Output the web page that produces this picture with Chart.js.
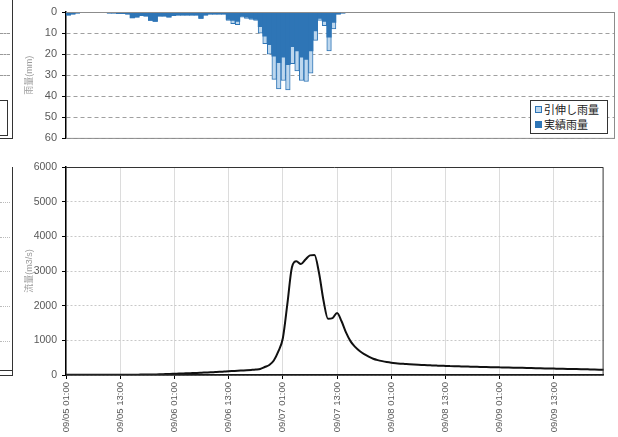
<!DOCTYPE html>
<html lang="ja">
<head>
<meta charset="UTF-8">
<title>雨量・流量</title>
<script src="https://cdn.jsdelivr.net/npm/chart.js"></script>
<style>
  body { margin: 0; padding: 0; background: #fff; width: 618px; height: 437px; position: relative; overflow: hidden;
         font-family: 'Liberation Sans', 'Noto Sans CJK JP', sans-serif; }
  canvas { position: absolute; left: 14px; }
  #rainChart { top: 0; }
  #flowChart { top: 150px; }
  .ln { position: absolute; background: #333; }
  .dash { position: absolute; height: 0; border-top: 1px dashed #999; }
  .dot { position: absolute; height: 0; border-top: 1px dotted #bbb; }
  #legend { position: absolute; left: 530px; top: 100px; width: 78px; height: 34px; border: 1px solid #333;
            background: #fff; font-size: 11px; color: #222; padding: 2px 0 0 4px; box-sizing: border-box; }
  #legend div { height: 15px; line-height: 15px; white-space: nowrap; }
  #legend span.mk { display: inline-block; width: 5px; height: 5px; margin-right: 2px; vertical-align: 1px; }
</style>
</head>
<body>
<!-- edges of the neighbouring charts on the left -->
<div class="ln" style="left:12px;top:0;width:1px;height:139px"></div>
<div class="ln" style="left:0;top:138px;width:13px;height:1px"></div>
<div class="dash" style="left:0;top:33px;width:10px"></div>
<div class="dash" style="left:0;top:54px;width:10px"></div>
<div class="dash" style="left:0;top:75px;width:10px"></div>
<div class="dash" style="left:0;top:118px;width:7px"></div>
<div style="position:absolute;left:-2px;top:100px;width:8px;height:34px;border:1px solid #333;background:#fff"></div>
<div class="ln" style="left:12px;top:167px;width:1px;height:209px"></div>
<div class="ln" style="left:0;top:370px;width:13px;height:1px"></div>
<div class="ln" style="left:0;top:375px;width:13px;height:1px"></div>
<div class="dot" style="left:0;top:202px;width:10px"></div>
<div class="dot" style="left:0;top:237px;width:10px"></div>
<div class="dot" style="left:0;top:271px;width:10px"></div>
<div class="dot" style="left:0;top:306px;width:10px"></div>
<div class="dot" style="left:0;top:341px;width:10px"></div>

<canvas id="rainChart" width="604" height="150"></canvas>
<canvas id="flowChart" width="604" height="287"></canvas>
<div id="legend"></div>

<script>
// hourly time labels, 09/05 01:00 .. 09/10 00:00
const hours = [
  '09/05 01:00','09/05 02:00','09/05 03:00','09/05 04:00','09/05 05:00','09/05 06:00','09/05 07:00','09/05 08:00','09/05 09:00','09/05 10:00','09/05 11:00','09/05 12:00',
  '09/05 13:00','09/05 14:00','09/05 15:00','09/05 16:00','09/05 17:00','09/05 18:00','09/05 19:00','09/05 20:00','09/05 21:00','09/05 22:00','09/05 23:00','09/06 00:00',
  '09/06 01:00','09/06 02:00','09/06 03:00','09/06 04:00','09/06 05:00','09/06 06:00','09/06 07:00','09/06 08:00','09/06 09:00','09/06 10:00','09/06 11:00','09/06 12:00',
  '09/06 13:00','09/06 14:00','09/06 15:00','09/06 16:00','09/06 17:00','09/06 18:00','09/06 19:00','09/06 20:00','09/06 21:00','09/06 22:00','09/06 23:00','09/07 00:00',
  '09/07 01:00','09/07 02:00','09/07 03:00','09/07 04:00','09/07 05:00','09/07 06:00','09/07 07:00','09/07 08:00','09/07 09:00','09/07 10:00','09/07 11:00','09/07 12:00',
  '09/07 13:00','09/07 14:00','09/07 15:00','09/07 16:00','09/07 17:00','09/07 18:00','09/07 19:00','09/07 20:00','09/07 21:00','09/07 22:00','09/07 23:00','09/08 00:00',
  '09/08 01:00','09/08 02:00','09/08 03:00','09/08 04:00','09/08 05:00','09/08 06:00','09/08 07:00','09/08 08:00','09/08 09:00','09/08 10:00','09/08 11:00','09/08 12:00',
  '09/08 13:00','09/08 14:00','09/08 15:00','09/08 16:00','09/08 17:00','09/08 18:00','09/08 19:00','09/08 20:00','09/08 21:00','09/08 22:00','09/08 23:00','09/09 00:00',
  '09/09 01:00','09/09 02:00','09/09 03:00','09/09 04:00','09/09 05:00','09/09 06:00','09/09 07:00','09/09 08:00','09/09 09:00','09/09 10:00','09/09 11:00','09/09 12:00',
  '09/09 13:00','09/09 14:00','09/09 15:00','09/09 16:00','09/09 17:00','09/09 18:00','09/09 19:00','09/09 20:00','09/09 21:00','09/09 22:00','09/09 23:00','09/10 00:00'
];

// 実績雨量 (mm/h)
const rainActual = [
  1.5, 1.0, 0.5, 0.3, 0.3, 0.2, 0.2, 0.3, 0.3, 0.5, 0.5, 0.8,
  0.8, 1.0, 2.8, 2.5, 1.8, 2.0, 4.0, 4.5, 2.0, 2.0, 2.5, 1.8,
  1.5, 1.5, 1.5, 1.5, 1.5, 3.0, 1.5, 1.0, 1.0, 1.0, 1.0, 3.5,
  4.0, 4.5, 2.0, 2.5, 3.0, 3.5, 7.0, 11.5, 15.5, 21.0, 24.0, 21.5,
  25.0, 16.5, 18.5, 21.5, 22.5, 18.5, 9.0, 3.0, 4.5, 12.0, 5.0, 1.0,
  0.5, 0, 0, 0, 0, 0, 0, 0, 0, 0, 0, 0,
  0, 0, 0, 0, 0, 0, 0, 0, 0, 0, 0, 0,
  0, 0, 0, 0, 0, 0, 0, 0, 0, 0, 0, 0,
  0, 0, 0, 0, 0, 0, 0, 0, 0, 0, 0, 0,
  0, 0, 0, 0, 0, 0, 0, 0, 0, 0, 0, 0
];

// 引伸し雨量 (mm/h)
const rainStretched = [
  1.5, 1.0, 0.5, 0.3, 0.3, 0.2, 0.2, 0.3, 0.3, 0.5, 0.5, 0.8,
  0.8, 1.0, 2.8, 2.5, 1.8, 2.0, 4.0, 4.5, 2.0, 2.0, 2.5, 1.8,
  1.5, 1.5, 1.5, 1.5, 1.5, 3.0, 1.5, 1.0, 1.0, 1.0, 1.0, 4.0,
  5.5, 6.0, 2.5, 3.0, 3.5, 4.0, 10.0, 15.0, 20.0, 32.0, 36.5, 32.5,
  37.0, 24.5, 28.0, 32.5, 33.0, 29.0, 13.5, 4.0, 6.5, 18.5, 8.0, 1.0,
  0.5, 0, 0, 0, 0, 0, 0, 0, 0, 0, 0, 0,
  0, 0, 0, 0, 0, 0, 0, 0, 0, 0, 0, 0,
  0, 0, 0, 0, 0, 0, 0, 0, 0, 0, 0, 0,
  0, 0, 0, 0, 0, 0, 0, 0, 0, 0, 0, 0,
  0, 0, 0, 0, 0, 0, 0, 0, 0, 0, 0, 0
];

// 流量 (m3/s)
const discharge = [
  5, 5, 5, 5, 5, 5, 5, 5, 5, 5, 5, 5,
  5, 5, 5, 8, 10, 12, 14, 16, 18, 22, 26, 30,
  35, 40, 45, 50, 55, 60, 66, 72, 78, 85, 92, 100,
  108, 115, 122, 130, 138, 147, 158, 175, 230, 290, 420, 680,
  1060, 2050, 3100, 3280, 3200, 3330, 3450, 3460, 2950, 2150, 1620, 1640,
  1790, 1550, 1220, 970, 810, 690, 600, 530, 470, 430, 400, 375,
  355, 340, 328, 318, 308, 300, 293, 287, 281, 276, 271, 266,
  262, 258, 254, 250, 247, 243, 240, 236, 233, 230, 227, 224,
  221, 218, 215, 212, 209, 206, 203, 200, 197, 194, 191, 188,
  185, 182, 179, 176, 173, 170, 167, 164, 161, 158, 155, 152
];

Chart.defaults.font.family = "'Liberation Sans', 'Noto Sans CJK JP', sans-serif";
Chart.defaults.animation = false;

// frame around the plot area (top, right, bottom)
function framePlugin(color) {
  return {
    id: 'frame',
    afterDraw(chart) {
      const a = chart.chartArea, c = chart.ctx;
      c.save();
      c.strokeStyle = color;
      c.lineWidth = 1;
      c.beginPath();
      c.moveTo(a.left, a.top + 0.5);
      c.lineTo(a.right - 0.5, a.top + 0.5);
      c.lineTo(a.right - 0.5, a.bottom);
      c.lineTo(a.left, a.bottom);
      c.stroke();
      c.restore();
    }
  };
}

const rainChart = new Chart(document.getElementById('rainChart'), {
  type: 'bar',
  data: {
    labels: hours,
    datasets: [{
      label: '実績雨量',
      data: rainActual,
      backgroundColor: '#2E75B6',
      borderWidth: 0,
      grouped: false,
      order: 0,
      barPercentage: 1,
      categoryPercentage: 1
    }, {
      label: '引伸し雨量',
      data: rainStretched,
      backgroundColor: '#BDD7EE',
      borderColor: '#2E75B6',
      borderWidth: 1,
      grouped: false,
      order: 1,
      barPercentage: 1,
      categoryPercentage: 1
    }]
  },
  options: {
    responsive: false,
    layout: { padding: { left: 0, top: 12, right: 3, bottom: 10 } },
    plugins: { legend: { display: false }, tooltip: { enabled: false } },
    scales: {
      x: {
        ticks: { display: false },
        grid: { display: false, drawTicks: false },
        border: { display: false },
        afterFit(s) { s.height = 0; }
      },
      y: {
        reverse: true,
        min: 0,
        max: 60,
        ticks: { stepSize: 10, color: '#595959', font: { size: 11 }, padding: 5 },
        grid: { color: '#a0a0a0', tickColor: '#000', tickLength: 4, tickBorderDash: [] },
        border: { color: '#000', width: 1.5, dash: [4, 3] },
        title: { display: true, text: '雨量(mm)', color: '#9a9a9a', font: { size: 9 }, padding: { top: 10, bottom: 0 } },
        afterFit(s) { s.width = 52; }
      }
    }
  },
  plugins: [framePlugin('#8c8c8c')]
});

// legend box, 引伸し雨量 first
const legendEl = document.getElementById('legend');
[rainChart.data.datasets[1], rainChart.data.datasets[0]].forEach(ds => {
  const row = document.createElement('div');
  const mk = document.createElement('span');
  mk.className = 'mk';
  mk.style.background = ds.backgroundColor;
  mk.style.border = '1px solid #2E75B6';
  row.appendChild(mk);
  row.appendChild(document.createTextNode(ds.label));
  legendEl.appendChild(row);
});

new Chart(document.getElementById('flowChart'), {
  type: 'line',
  data: {
    labels: hours,
    datasets: [{
      label: '流量',
      data: discharge,
      borderColor: '#111',
      borderWidth: 2,
      pointRadius: 0,
      fill: false,
      cubicInterpolationMode: 'monotone'
    }]
  },
  options: {
    responsive: false,
    layout: { padding: { left: 0, top: 17, right: 3, bottom: 0 } },
    plugins: { legend: { display: false }, tooltip: { enabled: false } },
    scales: {
      x: {
        offset: false,
        ticks: {
          autoSkip: false,
          maxRotation: 90,
          minRotation: 90,
          color: '#595959',
          font: { size: 9.5 },
          padding: 3,
          callback: (v, i) => (i % 12 === 0 ? hours[i] : '')
        },
        grid: {
          color: c => (c.index % 12 === 0 ? '#dcdcdc' : 'rgba(0,0,0,0)'),
          tickColor: c => (c.index % 12 === 0 ? '#000' : 'rgba(0,0,0,0)'),
          tickLength: 4
        },
        border: { color: '#000', width: 1.5 },
        afterFit(s) { s.height = 62; }
      },
      y: {
        min: 0,
        max: 6000,
        ticks: { stepSize: 1000, color: '#595959', font: { size: 10.5 }, padding: 5, callback: v => String(v) },
        grid: { color: '#c8c8c8', tickColor: '#000', tickLength: 4, tickBorderDash: [] },
        border: { color: '#000', width: 1.5, dash: [2, 2] },
        title: { display: true, text: '流量(m3/s)', color: '#9a9a9a', font: { size: 9 }, padding: { top: 10, bottom: 0 } },
        afterFit(s) { s.width = 52; }
      }
    }
  },
  plugins: [framePlugin('#333')]
});
</script>
</body>
</html>
